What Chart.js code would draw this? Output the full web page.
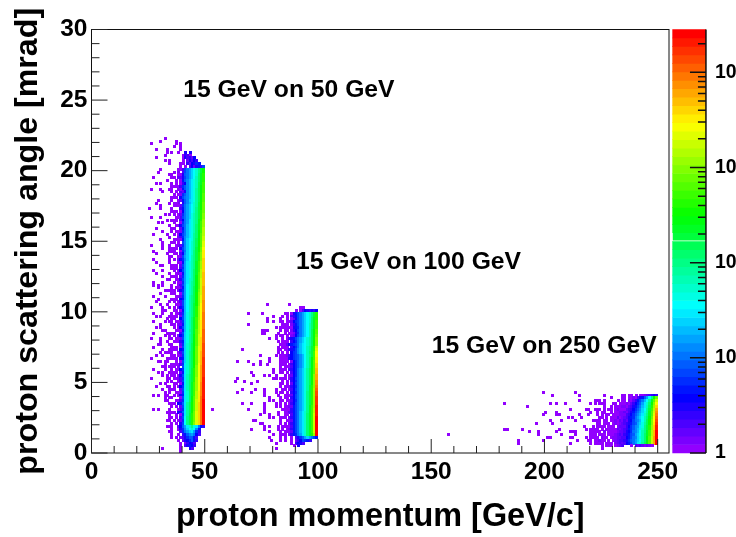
<!DOCTYPE html>
<html>
<head>
<meta charset="utf-8">
<style>
  html, body { margin: 0; padding: 0; background: #fff; overflow: hidden; }
  #wrap { position: relative; width: 736px; height: 537px; }
</style>
<script src="https://cdn.jsdelivr.net/npm/chart.js@4"></script>
</head>
<body>
<div id="wrap"><canvas id="kinematics" width="736" height="537"></canvas></div>
<script>
// one char per 1 GeV bin, rows are 0.2 mrad high, listed from the top down
// '.' = empty, otherwise the char is the colour level (0 violet ... N red)
// left of '|' counts up from the band's first bin, right of it ends on the last bin
const levelCodes = "0123456789abcdefghijklmnopqrstuvwxyzABCDEFGHIJKLMN";

const band50Rows = [
  "........0|",
  "......0......0|",
  "..0..........0.0|",
  "............0..0|",
  "....0....0.....0|",
  ".........0.0..0..5.5|",
  "........0.......0430|",
  "....0...........053426|",
  "........0.0.....0.25364|",
  "..........0....00.426587|",
  "...............0.0.3625749|",
  "......0.....|...0.9bdfhjmps",
  ".....0......|0...39bdfhjmps",
  "..........0.|...05abdfhjnqt",
  "...0.......0|0..259bdfhknqt",
  ".........0..|...07acegiknqt",
  "....0.0....0|0.0.6cegikoqu",
  "...........0|.0.38acegikoru",
  "..0...0...00|...07acegiloru",
  ".......0...0|0..25cegiloru",
  "............|..0.8acegilorv",
  "...........0|0..59bcegilorv",
  ".....0.....0|...27acfgilosv",
  "....0.....0.|.0..5acegjlpsw",
  "......0.....|0.0.8bdfhjlpsw",
  ".0....0....0|...37bdfhjmpsw",
  "...........0|.0.06bdfhjmptw",
  "........0...|0...8bdfikmptx",
  "..0...0.....|..0.9bdfikmptx",
  ".........0..|0..36bdgikmqty",
  ".....0.0....|...08bdgikmquy",
  "..........0.|.0.59begiknquy",
  "....0.......|0..27begiknquz",
  ".......0...0|..0.8begiknruz",
  "...0.....0..|0..69begilnrvz",
  "..........0.|...38cegilnrvA",
  "......0.....|.0.07cfhilorvA",
  ".......0...0|0...9cfhjlosvB",
  "..0....0..0.|...28cfhjlosvB",
  ".......0..00|00.59cfhjlpswC",
  "...0.......0|...08bfhjmpswD",
  "....0....0..|0..36cfhjmptxD",
  "..........00|..0.9dfhkmptxD",
  "...0......0.|0..58cfhkmptxE",
  "....0.....0.|...07dgikmquyE",
  "......00....|.0.29dgikmquyE",
  "...........0|0..38dgikmquyE",
  "...0...0....|...69dgiknquzE",
  "....0.....0.|.0.07dgiknqvzF",
  ".......0...0|0...8dgiknrvzF",
  ".........00.|...49dgjknrvAF",
  "...0...0....|0.0.8dgjlnrvAF",
  "...0.0.0....|...39dhjlnrvAF",
  ".....0.....0|..0.7dhjlorvAG",
  "........00..|0..58dhjlorwAG",
  "......0....0|...09dhjlosxAG",
  "...0....0...|.0.28dhkmosxBG",
  ".....0.....0|0..67dhkmosxBG",
  "....0.....0.|...39ehkmosxBH",
  "......0..0..|..0.9ehkmpsxCH",
  "..0....0....|0..58ehkmptyCH",
  ".......00...|...07ehkmptyCH",
  "...0...0....|.0.38eikmptyCI",
  "....0.0...00|0...9eikmptyCI",
  ".........0.0|...69eiknquyCI",
  "...0....0..0|..0.8eiknquzDI",
  "......0....0|0..27eiknquzDI",
  "....0.0.....|...59eiknquzDI",
  ".......00...|.0.07eilnqvzDJ",
  "...0.....00.|0..39fiknqvzDJ",
  "........0.0.|...68filnrvADJ",
  "..0...0....0|..0.9filnrvAEJ",
  "......0..0..|0..47filnrvAEJ",
  ".....00...00|...28fjlorvAEK",
  "...0.......0|.0.09fjlorwBEK",
  ".......0..00|0..67fjlorwBEK",
  "......0.00.0|...39fjmoswBFK",
  "....0..0...0|..0.8fjmoswBFK",
  "..0......00.|0..57fjmoswBFL",
  ".....00.00..|...09fjmoswBFL",
  "........0..0|.0.38gjmoswCFL",
  ".......00.00|0...9gjmosxCGL",
  "...0....0..0|...68gjmptxCGL",
  ".....0.0..00|00.27gjmptxCGL",
  ".......0.0.0|...59gknptxCGL",
  "..0......00.|0...8gknptyCGM",
  ".........0.0|...39gknptyCGM",
  "......0.0...|.0.07gknquyCHM",
  "....0....00.|0..68gknquyCHM",
  ".......0..00|...29gknquyCHM",
  "........0.0.|..0.8gjnquzDHM",
  "...0.0..00..|0..57gjnquzDHM",
  "........0.00|...09gjnrvzDIM",
  "........00..|.0.38gjnrvADIN",
  "..........0.|0..67aglosvAEIN",
  "...........0|...29glosvAEIN",
  "...0.0....0.|..0.8glosvAEIN",
  ".........00.|0..57agloswBEIN",
  "..........0.|...08glptwBEIN",
  "..........0.|.0.39hmptwBEIN",
  ".........00.|0...8hmptwBEIN",
  "...........0|...59hmptxBEIN",
  ".........00.|0..26adgjmigb74",
  "...........0|...058cfhjhc7..",
  "..........00|0...38bdfgd84..",
  "...........0|..0.47acdb63..",
  "...........0|.0.1358aa73...",
  "............|..0.2568a74...",
  "............|...0.14653....",
  "............|...0.35764....",
  ".......0....|...0...53.....",
  "............|...0.........."
];

// violet and blue cloud left of the 50 GeV core, bins 33-40, from 20.0 mrad down
const cloud50Rows = [
  ".....023", "...0.1.4", "..0..035", ".....2.3", "....0.16", "..0...24", "...0.025", ".0...1.5",
  "....0.36", "...0..14", "..0.0.25", ".....036", "...0.1.4", "....0025", "..0...37", "...00.14",
  ".0...026", "....0.35", "..0.0.14", "...0..27", ".....136", "..00..25", "....0.14", "...0.037",
  ".0...1.6", "...0.025", "..0..0.4", "....0137", "...0..26", ".0.0..15", "....0.37", "..0..024",
  "...0.1.6", ".....035", "..00..14", "....0.27", "...0.036", ".0...1.5", "..0.0.24", "....0036",
  "...0..15", "..0..0.7", "....0.26", ".00..134", "...0..25", ".....037", "..0.0.14", "...0.026",
  "....0.35", ".0...1.7", "...00.24", "..0..036", "....0.15", "...0..27", ".0..0.36", "..0..1.4",
  "...0.025", "....00.6", "..0...34", "...0.1.5", ".0..0.27", "....0036", "..0...14", "...00.25",
  "....0.37", ".0...0.4", "...0.126", "..0.0.35", "....0..7", "...0.024", ".00..1.5", "....0036",
  "..0...24", "...0.0.7", "....0135", "..0..0.6", "...0..14", ".....027", ".0.0..35", "....0.16",
  "...0.0.4", "..0...27", "....0036", "...0..15", "..0.0.24", ".....137", "...0..26", "....0.35",
  "..0.0..4", "...0.027", "....0.15"
];

const band100Rows = [
  "...............0.........0|",
  "..............................00|",
  ".........................|...0.03654546",
  ".......0.....0..........0|.....579bdfhjmpt",
  "..................0...0.0|0...3479bdfhjmpt",
  "...............0.....0...|...0.59bdfhjnqt",
  "...............0..0...0.0|0...2689bdfhjnqu",
  ".......0..............0.0|.0..479bdfhknqu",
  "...................0.0.0.|...0.578bdfhknqu",
  ".............000.....0...|0...469bdfhkorv",
  ".............00.....0..0.|..0.158bdfhkorv",
  "...................0..0.0|.0..269bdfhkorw",
  "................0..0....0|...03579bdfhjlorx",
  "....................0..00|0...468bdfhjlosx",
  ".....................0.0.|..0.25789beghjlosx",
  "....................0.000|.0..468beghkmptA",
  "....0...............0..00|0..03579ceghkmptB",
  "....................0.0.0|...0.689ceghknpuC",
  "............0......0..000|0..13689acehkmpuC",
  "................0....0.0.|..0.4689acehknruD",
  "..0....0....0...0....00..|.0..168acehknrvD",
  ".........0..0..0......00.|0..0468acehknrvE",
  ".....................0..0|...0368acehknrvE",
  "..................0..0.0.|.0.2468bdfilosvF",
  "........0.........0..0...|0...368bdfilosvF",
  ".........0....0.0..0...0.|...0268bdfilosxG",
  "..0...............00..0..|.0..469bdfilosxG",
  ".0...0.....0..........0.0|..0.468bdfilosxH",
  "........0............00..|0...269bdfilosxH",
  ".....................0..0|...0468bdfilptxI",
  "....0.....0...0....0..0..|.0.0369bdfilptyJ",
  "..0.....0.....0....0..0..|0...468bdfimptyK",
  "..............0.....0...0|...0269bdfimptyK",
  "................0....0.0.|.0..469bdfimptyL",
  "................0.0..00..|0..0368bdfimptyL",
  "....0...0.....0....0.0...|...0469bdfimptyL",
  "..............0....0....0|.0.1279bdfimquyM",
  ".......0......0.......00.|0..0479bdfimquzM",
  "..............0.....0..0.|...2479begjmquzM",
  "............0...0...0...0|.0..379begjnquAM",
  "................0.0..0.0.|0..1479begjnquAN",
  ".........00..........0..0|...0279begjnquAN",
  "............00.......0...|.0.1479begjnquAN",
  "..............0.0...0..0.|0..0379begjnquAN",
  "........0.....0.....0.0..|...1479begjnquAN",
  "................0....0..0|.0.0279begjnquAN",
  "..................0..0.0.|0..1478bdgjnqtyN",
  "................0....0.0.|....0.358adfdb97",
  ".................0...0.0.|....0.2469874...",
  "...................0.....|....0.4653......",
  ".........................|.....0.5........",
  "...................0.....|................"
];

// same cloud for the 100 GeV band, bins 82-90, from 9.8 mrad down
const cloud100Rows = [
  "...0..013", "..0...1.3", "....0.024", ".0...01.3", "...0..124", "..0.0.0.3", "....0.135", "...0..023",
  ".0..0.1.4", "..0...025", "....0.1.3", "...0.0024", "..0...135", ".0..0.0.4", "....0.123", "...0..025",
  "..0.0.1.4", "....0.035", ".0.0..124", "...0.0.13", "..0...025", "....0.134", "...0.0.25", ".0...0134",
  "..0.0..25", "....0.134", "...0..025", "..0..01.4", ".0..0.135", "...0..024", "....0.1.5", "..0.0.034",
  "...0..125", ".0...0.34", "..0.0.125", "....0.034", "...0..1.5", "..0..0034", ".0..0.125", "...0..034",
  "....0.1.5", "..0.0.024", "...0..135", ".....0.24"
];

const band250Rows = [
  "0..........0.......0|0.00.0.00123454",
  "..............0....0|0.0010357adhmsw",
  "0......000.0.....0.0|0.102479behlqvA",
  ".....0.0.000...00.00|0102468adgjnsxC",
  "...........0..0.0001|1023579begkotyE",
  "...00..000.0.00.0100|023468acfhlpuzG",
  ".....0..0.00..0.0011|213579bdfilqvAH",
  "0...0...0.0.00.00011|13468acegjmqvBI",
  ".0.......00.0.000201|23578bdfhknrwCJ",
  "......0000.00.001021|32569bcehkosxCK",
  "........00.000.01012|34579adfilosxDL",
  "..0...0.0000.000.122|2468acdgimptyEM",
  "...0.0000.0.00000212|3478acegjmptyEM",
  ".....00000.1.0000122|3568bcehkmquzFN",
  ".....000.000.0001232|4579adfhknquzFN",
  "...0.0000.100.011223|3679bcfiknrvAGN",
  "....00.00100.0.01233|458abdfhknrvAGN",
  ".....0.0000.000.1232|3679bdgilorvAGN",
  "..........0.000.0123|...0.32321210..",
  "..........0.........|"
];

// single counts away from the dense part of each band: [GeV bin, mrad row]
const strayCells = [
  [53, 3.0], [157, 1.2], [199, 4.2], [213, 4.2], [203, 4.0], [182, 3.4], [202, 3.4],
  [205, 3.4], [209, 3.4], [192, 3.2], [211, 3.0], [200, 2.8], [205, 2.8], [199, 2.6],
  [205, 2.6], [206, 2.6], [210, 2.4], [212, 2.4], [202, 2.2], [207, 2.2], [213, 2.2],
  [196, 2.0], [203, 2.0], [182, 1.6], [183, 1.6], [190, 1.6], [206, 1.6], [193, 1.4],
  [197, 1.4], [205, 1.4], [211, 1.4], [212, 1.4], [213, 1.4], [197, 1.2], [207, 1.2],
  [213, 1.2], [201, 1.0], [202, 1.0], [211, 1.0], [212, 1.0], [188, 0.8], [199, 0.8],
  [214, 0.8], [188, 0.6], [211, 0.6]
];

const xTickValues = [0, 10, 20, 30, 40, 50, 60, 70, 80, 90, 100, 110, 120, 130, 140, 150, 160, 170, 180, 190, 200, 210, 220, 230, 240, 250];
const yTickValues = [0, 1, 2, 3, 4, 5, 6, 7, 8, 9, 10, 11, 12, 13, 14, 15, 16, 17, 18, 19, 20, 21, 22, 23, 24, 25, 26, 27, 28, 29, 30];
const zMajorTicks = [1, 10, 100, 1000, 10000];
const zMinorTicks = [2, 3, 4, 5, 6, 7, 8, 9, 20, 30, 40, 50, 60, 70, 80, 90, 200, 300, 400, 500, 600, 700, 800, 900, 2000, 3000, 4000, 5000, 6000, 7000, 8000, 9000, 20000];
const zLabels = { 1: "1", 10: "10", 100: "10²", 1000: "10³", 10000: "10⁴" };
const zMax = 28200;

const bandLabels = ["15 GeV on 50 GeV", "15 GeV on 100 GeV", "15 GeV on 250 GeV"];
const xTitle = "proton momentum [GeV/c]";
const yTitle = "proton scattering angle [mrad]";

const FONT = '"Liberation Sans", Arial, Helvetica, sans-serif';
const BIN_ROW = 0.2;

// ROOT's 50 step rainbow
function levelColor(i) {
  return 'hsl(' + (280 - (i + 1) * 5.6) + ', 100%, 50%)';
}

const swatches = levelCodes.split('').map((c, i) => {
  const cv = document.createElement('canvas');
  cv.width = 3;
  cv.height = 3;
  const g = cv.getContext('2d');
  g.fillStyle = levelColor(i);
  g.fillRect(0, 0, 3, 3);
  return cv;
});

const cells = [];
function placeCells(text, start, rowValue) {
  text.split('').forEach((ch, c) => {
    if (ch !== '.') {
      cells.push({x: start + c + 0.5, y: rowValue + BIN_ROW / 2, level: levelCodes.indexOf(ch)});
    }
  });
}
function addRows(rows, firstBin, lastBin, topRow) {
  rows.forEach((row, r) => {
    const parts = row.split('|');
    placeCells(parts[0], firstBin, topRow - r * BIN_ROW);
    placeCells(parts[1], lastBin - parts[1].length + 1, topRow - r * BIN_ROW);
  });
}
function addCloud(rows, firstBin, topRow) {
  rows.forEach((row, r) => placeCells(row, firstBin, topRow - r * BIN_ROW));
}
strayCells.forEach(p => cells.push({x: p[0] + 0.5, y: p[1] + BIN_ROW / 2, level: 0}));
addCloud(cloud50Rows, 33, 20.0);
addCloud(cloud100Rows, 82, 9.8);
addRows(band50Rows, 24, 49, 22.2);
addRows(band100Rows, 62, 99, 10.4);
addRows(band250Rows, 215, 249, 4.0);

// colour bar steps, equal in log10 up to zMax
const zStep = Math.log10(zMax) / levelCodes.length;
const barSteps = levelCodes.split('').map((c, i) => ({
  x: 263.9,
  y: [Math.pow(10, i * zStep), Math.pow(10, (i + 1) * zStep)]
}));

const rootFrame = {
  id: 'rootFrame',
  beforeDatasetsDraw(chart) {
    chart.ctx.imageSmoothingEnabled = false;
  },
  afterDraw(chart) {
    const {ctx, chartArea: a, scales} = chart;
    const {x, y, z} = scales;
    ctx.save();
    ctx.strokeStyle = '#111';
    ctx.lineWidth = 1;
    ctx.strokeRect(a.left, a.top, a.right - a.left, a.bottom - a.top);

    ctx.strokeStyle = '#222';
    ctx.beginPath();
    xTickValues.forEach(v => {
      const len = v % 50 === 0 ? 14 : 7;
      ctx.moveTo(x.getPixelForValue(v), a.bottom);
      ctx.lineTo(x.getPixelForValue(v), a.bottom - len);
    });
    yTickValues.forEach(v => {
      const len = v % 5 === 0 ? 16 : 8;
      ctx.moveTo(a.left, y.getPixelForValue(v));
      ctx.lineTo(a.left + len, y.getPixelForValue(v));
    });
    ctx.stroke();

    // colour bar axis
    const barAxis = x.getPixelForValue(263.9) + 16.8;
    ctx.lineWidth = 1.5;
    ctx.strokeStyle = '#111';
    ctx.beginPath();
    ctx.moveTo(barAxis, z.getPixelForValue(zMax));
    ctx.lineTo(barAxis, z.getPixelForValue(1));
    zMajorTicks.forEach(v => {
      ctx.moveTo(barAxis, z.getPixelForValue(v));
      ctx.lineTo(barAxis - 16, z.getPixelForValue(v));
    });
    zMinorTicks.forEach(v => {
      ctx.moveTo(barAxis, z.getPixelForValue(v));
      ctx.lineTo(barAxis - 8, z.getPixelForValue(v));
    });
    ctx.stroke();

    ctx.fillStyle = '#000';
    ctx.font = 'bold 24.7px ' + FONT;
    ctx.textBaseline = 'middle';
    ctx.textAlign = 'left';
    ctx.fillText(bandLabels[0], x.getPixelForValue(40.5), y.getPixelForValue(25.7));
    ctx.fillText(bandLabels[1], x.getPixelForValue(90.3), y.getPixelForValue(13.52));
    ctx.fillText(bandLabels[2], x.getPixelForValue(150.2), y.getPixelForValue(7.55));
    ctx.restore();
  }
};

new Chart(document.getElementById('kinematics'), {
  type: 'scatter',
  data: {
    datasets: [{
      data: cells,
      showLine: false,
      pointRadius: 2,
      pointHoverRadius: 2,
      pointBorderWidth: 0,
      pointStyle: c => swatches[c.raw ? c.raw.level : 0]
    }, {
      type: 'bar',
      xAxisID: 'x',
      yAxisID: 'z',
      data: barSteps,
      clip: false,
      barThickness: 33,
      backgroundColor: barSteps.map((s, i) => levelColor(i)),
      borderColor: '#fff',
      borderWidth: c => (c.dataIndex === 25 ? {bottom: 1} : 0),
      borderSkipped: false
    }]
  },
  plugins: [rootFrame],
  options: {
    responsive: false,
    animation: false,
    events: [],
    layout: {padding: {top: 29.5}},
    plugins: {legend: {display: false}, tooltip: {enabled: false}},
    scales: {
      x: {
        type: 'linear',
        offset: false,
        min: 0,
        max: 255,
        grid: {display: false, drawTicks: false},
        border: {display: false},
        afterFit: s => { s.height = 84; s.paddingLeft = 0; s.paddingRight = 0; },
        title: {
          display: true,
          text: xTitle,
          color: '#000',
          font: {family: FONT, size: 32.4, weight: 'bold'},
          padding: {top: 15, bottom: 0}
        },
        ticks: {
          stepSize: 50,
          includeBounds: false,
          maxRotation: 0,
          autoSkip: false,
          color: '#000',
          padding: 5,
          font: {family: FONT, size: 24.5, weight: 'bold'}
        }
      },
      y: {
        type: 'linear',
        min: 0,
        max: 30,
        grid: {display: false, drawTicks: false},
        border: {display: false},
        afterFit: s => { s.width = 91.5; s.paddingTop = 0; s.paddingBottom = 0; },
        title: {
          display: true,
          text: yTitle,
          color: '#000',
          font: {family: FONT, size: 32.2, weight: 'bold'},
          padding: {top: 9, bottom: 0}
        },
        ticks: {
          stepSize: 5,
          maxRotation: 0,
          autoSkip: false,
          color: '#000',
          padding: 4,
          font: {family: FONT, size: 24.5, weight: 'bold'}
        }
      },
      z: {
        type: 'logarithmic',
        position: 'right',
        min: 1,
        max: zMax,
        grid: {display: false, drawTicks: false},
        border: {display: false},
        afterFit: s => { s.width = 67; s.paddingTop = 0; s.paddingBottom = 0; },
        afterBuildTicks: s => { s.ticks = zMajorTicks.map(v => ({value: v})); },
        ticks: {
          autoSkip: false,
          maxRotation: 0,
          color: '#000',
          padding: 46,
          callback: v => zLabels[v],
          font: {family: FONT, size: 19.5, weight: 'bold'}
        }
      }
    }
  }
});
</script>
</body>
</html>
